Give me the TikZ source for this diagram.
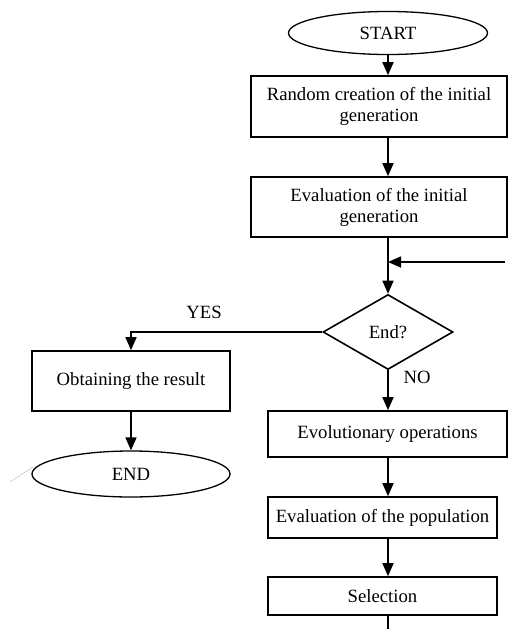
\documentclass[tikz,border=0pt]{standalone}
\usepackage{fontspec}
\setmainfont{Liberation Serif}
\usetikzlibrary{shapes.geometric,arrows.meta}
\begin{document}
\begin{tikzpicture}[x=1pt,y=-1pt,
  every node/.style={font=\fontsize{18.7}{21}\selectfont},
  box/.style={draw,line width=1.6pt,rectangle,inner sep=2pt,align=center},
  term/.style={draw,line width=1.3pt,ellipse,inner sep=0pt},
  dec/.style={draw,line width=1.6pt,diamond,inner sep=0pt},
  conn/.style={line width=1.6pt},
  arr/.style={conn,-{Triangle[width=11pt,length=13pt]}},
  lbl/.style={inner sep=0pt}]
\useasboundingbox (0,0) rectangle (517,629);
\coordinate (spine) at (388,0);
\node[term,minimum width=199pt,minimum height=43pt] (start) at (388,33) {START};
\node[box,minimum width=256pt,minimum height=61pt] (b1) at (379,106.5) {Random creation of the initial\\generation};
\node[box,minimum width=256pt,minimum height=60pt] (b2) at (379,207) {Evaluation of the initial\\generation};
\node[dec,minimum width=130pt,minimum height=75pt] (d) at (388,332) {End?};
\node[box,minimum width=198pt,minimum height=60pt] (obt) at (131,381) {Obtaining the result};
\node[term,minimum width=198pt,minimum height=46pt] (end) at (131,474) {END};
\node[box,minimum width=239pt,minimum height=46pt] (evo) at (387.5,434) {Evolutionary operations};
\node[box,minimum width=229pt,minimum height=41pt] (evp) at (382.5,517.5) {Evaluation of the population};
\node[box,minimum width=229pt,minimum height=38pt] (sel) at (382.5,596) {Selection};
\node[lbl] (yes) at (204,312) {YES};
\node[lbl] (no) at (417,377) {NO};
\coordinate (fb) at (505,262);
\coordinate (out) at (388,629);
\coordinate (g1) at (10,482);
\coordinate (g2) at (33,467);
\draw[arr] (start.south -| spine) -- (b1.north -| spine);
\draw[arr] (b1.south -| spine) -- (b2.north -| spine);
\draw[arr] (b2.south -| spine) -- (d.north);
\draw[arr] (fb) -- (fb -| spine);
\draw[arr] (d.west) -- (d.west -| obt.north) -- (obt.north);
\draw[arr] (d.south) -- (evo.north -| d.south);
\draw[arr] (obt.south) -- (end.north);
\draw[arr] (evo.south -| spine) -- (evp.north -| spine);
\draw[arr] (evp.south -| spine) -- (sel.north -| spine);
\draw[conn] (sel.south -| spine) -- (out);
\draw[gray!60,line width=0.4pt] (g1) -- (g2);
\end{tikzpicture}
\end{document}
